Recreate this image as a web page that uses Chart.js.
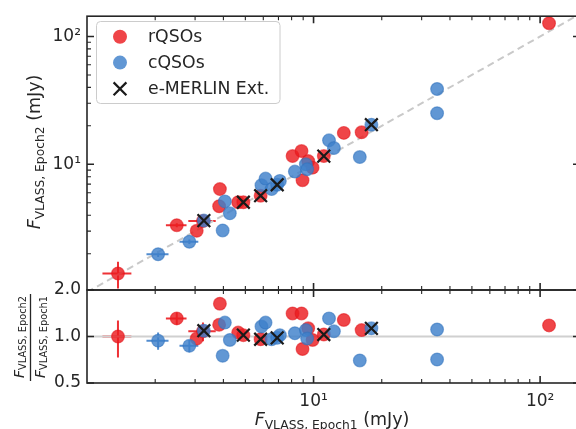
<!DOCTYPE html>
<html><head><meta charset="utf-8"><title>VLASS epochs</title>
<script src="https://cdn.jsdelivr.net/npm/chart.js@4.4.1/dist/chart.umd.min.js"></script>
<style>
html,body{margin:0;padding:0;background:#fff;overflow:hidden;width:576px;height:429px;}
#wrap{position:relative;width:576px;height:429px;overflow:hidden;background:#fff;}
canvas{position:absolute;left:0;top:0;}
</style></head><body>
<div id="wrap"><canvas id="cTop" width="584" height="429"></canvas><canvas id="cBot" width="584" height="429"></canvas></div>
<script>
// ---------------- data ----------------
const rqsoEpoch1 = [1.37, 2.49, 3.05, 3.25, 3.86, 3.83, 4.65, 4.90, 5.84, 8.08, 8.85, 8.94, 9.47, 9.90, 11.1, 13.6, 16.3, 109.5];
const rqsoEpoch2 = [1.40, 3.34, 3.02, 3.60, 6.40, 4.70, 5.05, 5.05, 5.68, 11.6, 12.7, 7.51, 10.6, 9.42, 11.6, 17.6, 17.8, 127];
const rqsoRatio  = [1.00, 1.31, 0.97, 1.08, 1.63, 1.19, 1.06, 1.02, 0.96, 1.41, 1.41, 0.83, 1.13, 0.95, 1.03, 1.28, 1.10, 1.18];
const rqsoErr1   = [0.20, 0.26, 0, 0.45, 0, 0, 0, 0, 0, 0, 0, 0, 0, 0, 0, 0, 0, 0];
const rqsoErr2   = [0.33, 0.12, 0, 0.30, 0, 0, 0, 0, 0, 0, 0, 0, 0, 0, 0, 0, 0, 0];
const rqsoErrRat = [0.27, 0.12, 0, 0.15, 0, 0, 0, 0, 0, 0, 0, 0, 0, 0, 0, 0, 0, 0];

const cqsoEpoch1 = [2.06, 2.83, 3.28, 4.06, 3.97, 4.27, 5.89, 6.14, 6.53, 6.91, 7.10, 8.27, 9.25, 9.37, 11.7, 12.3, 16.0, 18.0, 35.1, 35.1];
const cqsoEpoch2 = [1.98, 2.48, 3.63, 5.13, 3.04, 4.14, 6.87, 7.73, 6.40, 6.92, 7.42, 8.77, 10.0, 9.15, 15.4, 13.4, 11.4, 20.4, 38.8, 25.1];
const cqsoRatio  = [0.94, 0.87, 1.09, 1.23, 0.75, 0.95, 1.16, 1.23, 0.96, 0.98, 1.02, 1.05, 1.10, 0.97, 1.31, 1.08, 0.70, 1.13, 1.11, 0.71];
const cqsoErr1   = [0.23, 0.27, 0, 0, 0, 0, 0, 0, 0, 0, 0, 0, 0, 0, 0, 0, 0, 0, 0, 0];
const cqsoErr2   = [0.10, 0.10, 0, 0, 0, 0, 0, 0, 0, 0, 0, 0, 0, 0, 0, 0, 0, 0, 0, 0];
const cqsoErrRat = [0.12, 0.08, 0, 0, 0, 0, 0, 0, 0, 0, 0, 0, 0, 0, 0, 0, 0, 0, 0, 0];

const merlinEpoch1 = [3.28, 4.90, 5.84, 6.91, 11.1, 18.0];
const merlinEpoch2 = [3.63, 5.05, 5.68, 6.92, 11.6, 20.4];
const merlinRatio  = [1.09, 1.02, 0.96, 0.98, 1.03, 1.13];

const oneToOne = [1, 150];
const fluxRange = [1, 150];
const epoch2Range = [1.04, 144];
const ratioRange = [0.5, 2.0];

const fluxMajorTicks = [10, 100];
const fluxMajorLabels = ['10\u00b9', '10\u00b2'];
const fluxMinorTicks = [2, 3, 4, 5, 6, 7, 8, 9, 20, 30, 40, 50, 60, 70, 80, 90];
const ratioTicks = [0.5, 1.0, 2.0];
const ratioLabels = ['0.5', '1.0', '2.0'];

const legendLabels = ['rQSOs', 'cQSOs', 'e-MERLIN Ext.'];
// ----------------------------------------------------------------

const FONT = 'DejaVu Sans';
const INK = '#262626';
const RED = 'rgba(236,28,32,0.82)';
const BLUE = 'rgba(62,128,202,0.82)';
const RED_RING = 'rgba(225,20,25,0.55)';
const BLUE_RING = 'rgba(50,115,190,0.55)';
const RED_E = 'rgba(236,28,32,0.9)';
const BLUE_E = 'rgba(62,128,202,0.9)';
const W = 584, H = 429;
const R = 7;

function pts(xs, ys) { return xs.map((x, i) => ({x: x, y: ys[i]})); }

function drawFrameAndTicks(chart, yMajor, yMinor) {
  const {ctx, chartArea: a, scales} = chart;
  ctx.save();
  ctx.strokeStyle = INK;
  const sets = [[fluxMajorTicks, 7, 1.6], [fluxMinorTicks, 4, 1.1]];
  for (const [vals, len, lw] of sets) {
    ctx.lineWidth = lw;
    ctx.beginPath();
    for (const v of vals) {
      const px = scales.x.getPixelForValue(v);
      if (px < a.left || px > a.right) continue;
      ctx.moveTo(px, a.top); ctx.lineTo(px, a.top + len);
      ctx.moveTo(px, a.bottom); ctx.lineTo(px, a.bottom - len);
    }
    ctx.stroke();
  }
  const ysets = [[yMajor, 7, 1.6], [yMinor, 4, 1.1]];
  for (const [vals, len, lw] of ysets) {
    ctx.lineWidth = lw;
    ctx.beginPath();
    for (const v of vals) {
      const py = scales.y.getPixelForValue(v);
      if (py < a.top || py > a.bottom) continue;
      ctx.moveTo(a.left, py); ctx.lineTo(a.left + len, py);
      ctx.moveTo(a.right, py); ctx.lineTo(a.right - len, py);
    }
    ctx.stroke();
  }
  ctx.lineWidth = 1.6;
  ctx.strokeRect(a.left, a.top, a.right - a.left, a.bottom - a.top);
  ctx.restore();
}

function drawMath(ctx, cx, cy, rot, parts) {
  ctx.save();
  ctx.translate(cx, cy);
  ctx.rotate(rot);
  ctx.fillStyle = INK;
  ctx.textBaseline = 'alphabetic';
  ctx.textAlign = 'left';
  let total = 0;
  for (const p of parts) { ctx.font = p.font; p.w = ctx.measureText(p.t).width; total += p.w; }
  let x = -total / 2;
  for (const p of parts) { ctx.font = p.font; ctx.fillText(p.t, x, p.dy || 0); x += p.w; }
  ctx.restore();
}

const errorBars = {
  id: 'errorBars',
  beforeDatasetsDraw(chart) {
    const {ctx, scales} = chart;
    const a = chart.chartArea;
    ctx.save();
    ctx.beginPath(); ctx.rect(a.left, a.top, a.right - a.left, a.bottom - a.top); ctx.clip();
    ctx.lineWidth = 2;
    chart.data.datasets.forEach(ds => {
      if (!ds.errX) return;
      ctx.strokeStyle = ds.errColor;
      ds.data.forEach((p, i) => {
        const ex = ds.errX[i], ey = ds.errY[i];
        const px = scales.x.getPixelForValue(p.x), py = scales.y.getPixelForValue(p.y);
        ctx.beginPath();
        if (ex > 0) {
          ctx.moveTo(scales.x.getPixelForValue(p.x - ex), py);
          ctx.lineTo(scales.x.getPixelForValue(p.x + ex), py);
        }
        if (ey > 0) {
          ctx.moveTo(px, scales.y.getPixelForValue(p.y - ey));
          ctx.lineTo(px, scales.y.getPixelForValue(p.y + ey));
        }
        ctx.stroke();
      });
    });
    ctx.restore();
  }
};

const topDecor = {
  id: 'topDecor',
  afterDraw(chart) {
    const ctx = chart.ctx;
    drawFrameAndTicks(chart, fluxMajorTicks, fluxMinorTicks);
    drawMath(ctx, 40, 152, -Math.PI / 2, [
      {t: 'F', font: 'italic 17.5px ' + FONT},
      {t: 'VLASS, Epoch2', font: '12.3px ' + FONT, dy: 3.5},
      {t: ' (mJy)', font: '17.5px ' + FONT}
    ]);
    ctx.save();
    const lx = 96.5, ly = 21.5, lw = 183.5, lh = 82;
    ctx.beginPath();
    ctx.roundRect(lx, ly, lw, lh, 4);
    ctx.fillStyle = 'rgba(255,255,255,0.85)';
    ctx.fill();
    ctx.strokeStyle = '#cccccc';
    ctx.lineWidth = 1;
    ctx.stroke();
    const rows = [36.7, 62.6, 88.8];
    ctx.fillStyle = RED;
    ctx.beginPath(); ctx.arc(120, rows[0], 7, 0, Math.PI * 2); ctx.fill();
    ctx.fillStyle = BLUE;
    ctx.beginPath(); ctx.arc(120, rows[1], 7, 0, Math.PI * 2); ctx.fill();
    ctx.strokeStyle = '#1a1a1a'; ctx.lineWidth = 2.2;
    ctx.beginPath();
    ctx.moveTo(120 - 6.4, rows[2] - 6.4); ctx.lineTo(120 + 6.4, rows[2] + 6.4);
    ctx.moveTo(120 - 6.4, rows[2] + 6.4); ctx.lineTo(120 + 6.4, rows[2] - 6.4);
    ctx.stroke();
    ctx.fillStyle = INK;
    ctx.font = '17.3px ' + FONT;
    ctx.textBaseline = 'middle';
    ctx.textAlign = 'left';
    legendLabels.forEach((t, i) => ctx.fillText(t, 148, rows[i] + 1));
    ctx.restore();
  }
};

const botDecor = {
  id: 'botDecor',
  afterDraw(chart) {
    const ctx = chart.ctx;
    drawFrameAndTicks(chart, ratioTicks, []);
    drawMath(ctx, 332, 425, 0, [
      {t: 'F', font: 'italic 17.5px ' + FONT},
      {t: 'VLASS, Epoch1', font: '12.3px ' + FONT, dy: 3.5},
      {t: ' (mJy)', font: '17.5px ' + FONT}
    ]);
    drawMath(ctx, 23.5, 337, -Math.PI / 2, [
      {t: 'F', font: 'italic 14px ' + FONT},
      {t: 'VLASS, Epoch2', font: '9.8px ' + FONT, dy: 2.5}
    ]);
    drawMath(ctx, 44.5, 337, -Math.PI / 2, [
      {t: 'F', font: 'italic 14px ' + FONT},
      {t: 'VLASS, Epoch1', font: '9.8px ' + FONT, dy: 2.5}
    ]);
    ctx.save();
    ctx.strokeStyle = INK; ctx.lineWidth = 1.3;
    ctx.beginPath(); ctx.moveTo(30.5, 294); ctx.lineTo(30.5, 381); ctx.stroke();
    ctx.restore();
  }
};

function tickFont() { return {family: FONT, size: 17}; }

const common = {
  responsive: false,
  animation: false,
  devicePixelRatio: 1,
  events: [],
  plugins: {legend: {display: false}, tooltip: {enabled: false}}
};

function pointSet(label, xs, ys, fill, ring, ex, ey, ecol, order) {
  return {label: label, data: pts(xs, ys), backgroundColor: fill, borderColor: ring, borderWidth: 1.2,
          pointRadius: R - 0.6, errX: ex, errY: ey, errColor: ecol, order: order};
}

new Chart(document.getElementById('cTop'), {
  type: 'scatter',
  data: {
    datasets: [
      {type: 'line', data: pts(oneToOne, oneToOne), borderColor: '#c9c9c9', borderWidth: 2,
       borderDash: [7, 4.5], pointRadius: 0, fill: false, order: 4},
      pointSet('rQSOs', rqsoEpoch1, rqsoEpoch2, RED, RED_RING, rqsoErr1, rqsoErr2, RED_E, 3),
      pointSet('cQSOs', cqsoEpoch1, cqsoEpoch2, BLUE, BLUE_RING, cqsoErr1, cqsoErr2, BLUE_E, 2),
      {label: 'e-MERLIN Ext.', data: pts(merlinEpoch1, merlinEpoch2), pointStyle: 'crossRot',
       pointRadius: 9, borderColor: '#1a1a1a', borderWidth: 2.2, backgroundColor: 'rgba(0,0,0,0)', order: 1}
    ]
  },
  options: Object.assign({}, common, {
    layout: {autoPadding: false, padding: {left: 0, top: 14, right: W - 580, bottom: H - 290}},
    scales: {
      x: {type: 'logarithmic', min: fluxRange[0], max: fluxRange[1], display: false},
      y: {type: 'logarithmic', min: epoch2Range[0], max: epoch2Range[1],
          grid: {display: false, drawTicks: false}, border: {display: false},
          afterFit(s) { s.width = 87; },
          afterBuildTicks(s) { s.ticks = fluxMajorTicks.map(v => ({value: v})); },
          ticks: {font: tickFont(), color: INK, padding: 6,
                  callback: v => fluxMajorLabels[fluxMajorTicks.indexOf(v)] ?? ''}}
    }
  }),
  plugins: [errorBars, topDecor]
});

new Chart(document.getElementById('cBot'), {
  type: 'scatter',
  data: {
    datasets: [
      {type: 'line', data: pts(oneToOne, [1, 1]), borderColor: '#d0d0d0', borderWidth: 1.8,
       pointRadius: 0, fill: false, order: 4},
      pointSet('rQSOs', rqsoEpoch1, rqsoRatio, RED, RED_RING, rqsoErr1, rqsoErrRat, RED_E, 3),
      pointSet('cQSOs', cqsoEpoch1, cqsoRatio, BLUE, BLUE_RING, cqsoErr1, cqsoErrRat, BLUE_E, 2),
      {label: 'e-MERLIN Ext.', data: pts(merlinEpoch1, merlinRatio), pointStyle: 'crossRot',
       pointRadius: 9, borderColor: '#1a1a1a', borderWidth: 2.2, backgroundColor: 'rgba(0,0,0,0)', order: 1}
    ]
  },
  options: Object.assign({}, common, {
    layout: {autoPadding: false, padding: {left: 0, top: 290, right: W - 580, bottom: 0}},
    scales: {
      x: {type: 'logarithmic', min: fluxRange[0], max: fluxRange[1],
          grid: {display: false, drawTicks: false}, border: {display: false},
          afterFit(s) { s.height = H - 383; },
          afterBuildTicks(s) { s.ticks = fluxMajorTicks.map(v => ({value: v})); },
          ticks: {font: tickFont(), color: INK, padding: 8, maxRotation: 0, autoSkip: false,
                  callback: v => fluxMajorLabels[fluxMajorTicks.indexOf(v)] ?? ''}},
      y: {type: 'logarithmic', min: ratioRange[0], max: ratioRange[1],
          grid: {display: false, drawTicks: false}, border: {display: false},
          afterFit(s) { s.width = 87; },
          afterBuildTicks(s) { s.ticks = ratioTicks.map(v => ({value: v})); },
          ticks: {font: tickFont(), color: INK, padding: 6,
                  callback: v => ratioLabels[ratioTicks.indexOf(v)] ?? ''}}
    }
  }),
  plugins: [errorBars, botDecor]
});
</script>
</body></html>
